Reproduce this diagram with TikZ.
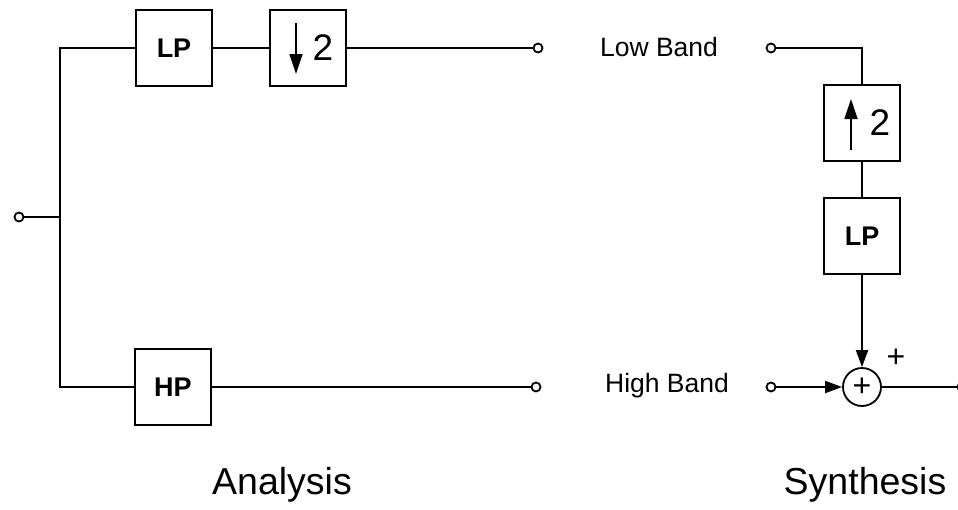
\documentclass[tikz,border=0pt]{standalone}
\usepackage{fontspec}
\setmainfont{Liberation Sans}
\usetikzlibrary{arrows.meta}
\begin{document}
\begin{tikzpicture}[x=1pt,y=-1pt,
  wire/.style={line width=1.8pt},
  block/.style={draw,line width=1.8pt,minimum size=76pt,inner sep=0pt,font=\fontsize{27}{27}\selectfont\bfseries},
  port/.style={circle,draw,line width=1.8pt,fill=white,minimum size=9pt,inner sep=0pt},
  summer/.style={circle,draw,line width=1.8pt,minimum size=38pt,inner sep=0pt,font=\fontsize{32}{32}\selectfont},
  tip/.style={-{Triangle[length=17pt,width=12pt]}},
  bigtip/.style={-{Triangle[length=20pt,width=13pt]}},
  lbl/.style={font=\fontsize{26.5}{26.5}\selectfont},
  plusmark/.style={font=\fontsize{32}{32}\selectfont},
  title/.style={font=\fontsize{37.5}{37.5}\selectfont},
  digit/.style={font=\fontsize{37}{37}\selectfont}]
\useasboundingbox (0,0) rectangle (958,509);

% analysis bank
\node[port] (in) at (19,217) {};
\coordinate (j) at (60,217);
\node[block] (lp1) at (174,48) {LP};
\node[block] (dn) at (308,48) {};
\node[port] (o1) at (538,48) {};
\node[block] (hp) at (173,387) {HP};
\node[port] (o2) at (536,387) {};
\coordinate (dnA) at (296,23);
\coordinate (dnB) at (296,74);
\draw[wire,bigtip] (dnA) -- (dnB);
\node[digit] (dn2) at (323,48) {2};

\draw[wire] (in) -- (j);
\draw[wire] (lp1.west) -| (j) |- (hp.west);
\draw[wire] (lp1) -- (dn);
\draw[wire] (dn) -- (o1);
\draw[wire] (hp) -- (o2);

\node[title] (ana) at (282,485) {Analysis};

% synthesis bank
\node[lbl] (lowtxt) at (659,47) {Low Band};
\node[lbl] (hightxt) at (667,386) {High Band};
\node[port] (i1) at (771,48) {};
\node[port] (i2) at (771,387) {};
\node[block] (up) at (862,123) {};
\node[block] (lp2) at (862,236) {LP};
\node[summer] (sum) at (862,387) {+};
\node[port] (out) at (962,387) {};
\coordinate (upA) at (851,150);
\coordinate (upB) at (851,99);
\draw[wire,bigtip] (upA) -- (upB);
\node[digit] (up2) at (880,123) {2};
\node[plusmark] (plus) at (896,358) {+};

\draw[wire] (i1) -| (up);
\draw[wire] (up) -- (lp2);
\draw[wire,tip] (lp2) -- (sum);
\draw[wire,tip] (i2) -- (sum);
\draw[wire] (sum) -- (out);

\node[title] (syn) at (865,485) {Synthesis};
\end{tikzpicture}
\end{document}
